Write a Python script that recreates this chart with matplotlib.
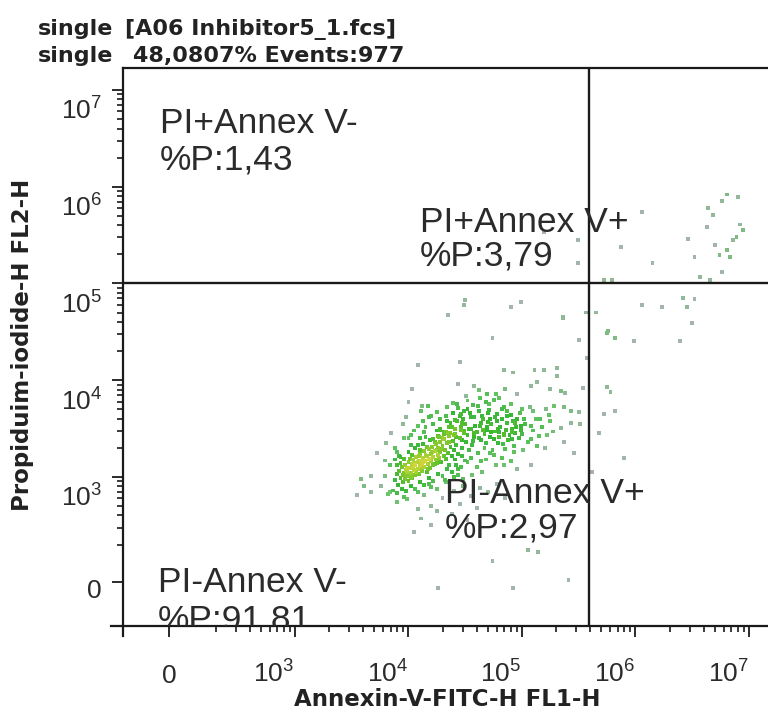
# Import libraries
import numpy as np
import matplotlib
matplotlib.use("Agg")
import matplotlib.pyplot as plt
from matplotlib.colors import LinearSegmentedColormap
from matplotlib.transforms import Affine2D, ScaledTranslation, blended_transform_factory

# Header and axis titles
header_line1 = ["single", "[A06 Inhibitor5_1.fcs]"]
header_line2 = ["single", "48,0807% Events:977"]
x_title = "Annexin-V-FITC-H FL1-H"
y_title = "Propiduim-iodide-H FL2-H"

# Tick values and labels
x_major = [0, 1e3, 1e4, 1e5, 1e6, 1e7]
x_labels = ["0", "$10^3$", "$10^4$", "$10^5$", "$10^6$", "$10^7$"]
y_major = [0, 1e3, 1e4, 1e5, 1e6, 1e7]
y_labels = ["0", "$10^3$", "$10^4$", "$10^5$", "$10^6$", "$10^7$"]
minor_steps = [2, 3, 4, 5, 6, 7, 8, 9]
minor_decades = [100, 1e3, 1e4, 1e5, 1e6]

# Quadrant gate and statistics
gate_x = 3.9e5
gate_y = 1.02e5
quad_names = ["PI+Annex V-", "PI+Annex V+", "PI-Annex V+", "PI-Annex V-"]
quad_pcts = ["%P:1,43", "%P:3,79", "%P:2,97", "%P:91,81"]

# Events as (log10 FL1, log10 FL2)
core_events = [
    (3.88, 2.97), (3.90, 3.03), (3.91, 2.92), (3.92, 3.06), (3.93, 2.99), (3.94, 3.10), (3.95, 2.95), (3.96, 3.04),
    (3.97, 3.12), (3.97, 2.98), (3.98, 3.07), (3.99, 3.01), (4.00, 3.15), (4.00, 2.96), (4.01, 3.09), (4.02, 3.04),
    (4.03, 3.13), (4.03, 2.99), (4.04, 3.18), (4.05, 3.07), (4.06, 3.02), (4.06, 3.12), (4.07, 3.21), (4.08, 3.08),
    (4.08, 3.15), (4.09, 3.03), (4.10, 3.11), (4.10, 3.24), (4.11, 3.17), (4.12, 3.06), (4.12, 3.13), (4.13, 3.20),
    (4.14, 3.10), (4.14, 3.27), (4.15, 3.16), (4.16, 3.05), (4.16, 3.22), (4.17, 3.13), (4.18, 3.19), (4.18, 3.29),
    (4.19, 3.09), (4.20, 3.24), (4.20, 3.16), (4.21, 3.31), (4.22, 3.12), (4.22, 3.21), (4.23, 3.27), (4.24, 3.18),
    (4.24, 3.34), (4.25, 3.14), (4.26, 3.23), (4.26, 3.30), (4.27, 3.20), (4.28, 3.36), (4.28, 3.26), (4.29, 3.15),
    (4.30, 3.32), (4.31, 3.22), (4.31, 3.39), (4.32, 3.28), (4.33, 3.19), (4.34, 3.35), (4.35, 3.25), (4.36, 3.42),
    (4.37, 3.31), (4.38, 3.22), (4.39, 3.37), (4.40, 3.28), (4.41, 3.44), (4.42, 3.33), (4.44, 3.24), (4.45, 3.40),
    (4.47, 3.30), (4.49, 3.45), (4.51, 3.36), (3.95, 3.02), (3.99, 3.09), (4.02, 3.00), (4.04, 3.11), (4.07, 3.05),
    (4.09, 3.17), (4.11, 3.09), (4.13, 3.15), (4.15, 3.23), (4.17, 3.08), (4.19, 3.18), (4.21, 3.26), (4.23, 3.13),
    (4.25, 3.28), (4.27, 3.17), (4.29, 3.29), (4.05, 3.14), (4.09, 3.22), (4.01, 3.19), (3.93, 3.14),
]
core_edge_events = [
    (3.84, 3.12), (3.88, 3.18), (3.92, 3.22), (3.96, 3.19), (4.00, 3.26), (4.03, 3.23), (4.06, 3.30), (4.10, 3.28),
    (4.13, 3.34), (4.16, 3.31), (4.19, 3.38), (4.23, 3.36), (4.26, 3.42), (4.30, 3.40), (4.33, 3.47), (4.37, 3.45),
    (4.41, 3.50), (4.46, 3.52), (3.90, 3.26), (4.02, 3.33), (4.15, 3.41), (4.28, 3.48), (3.82, 2.82), (3.86, 2.86),
    (3.90, 2.83), (3.94, 2.88), (3.98, 2.85), (4.02, 2.91), (4.06, 2.88), (4.10, 2.95), (4.14, 2.92), (4.18, 2.99),
    (4.22, 2.96), (4.26, 3.03), (4.30, 3.01), (4.34, 3.08), (4.38, 3.05), (4.42, 3.12), (4.46, 3.10), (4.50, 3.17),
    (3.96, 2.79), (4.08, 2.84), (4.20, 2.90), (4.32, 2.97), (4.44, 3.02),
]
mid_events = [
    (4.08, 4.16), (4.45, 4.19), (4.84, 4.11), (4.92, 4.08), (5.11, 4.11), (5.19, 4.11), (5.31, 4.13), (5.31, 4.04),
    (4.03, 3.91), (4.44, 3.96), (4.58, 3.94), (4.85, 3.91), (5.08, 3.94), (5.13, 3.98), (5.25, 3.91), (5.34, 3.89),
    (5.38, 3.87), (5.54, 3.92), (4.96, 3.86), (4.69, 3.86), (4.80, 3.82), (4.17, 3.73), (4.34, 3.72), (4.43, 3.75),
    (4.52, 3.79), (4.61, 3.73), (4.68, 3.77), (4.75, 3.80), (4.84, 3.72), (4.90, 3.75), (5.00, 3.70), (5.10, 3.68),
    (5.21, 3.70), (5.28, 3.73), (5.37, 3.72), (5.43, 3.68), (5.50, 3.67), (4.49, 3.68), (4.11, 3.68), (4.08, 3.53),
    (4.20, 3.63), (4.28, 3.60), (4.37, 3.56), (4.46, 3.65), (4.55, 3.62), (4.64, 3.56), (4.72, 3.60), (4.78, 3.65),
    (4.87, 3.63), (4.94, 3.56), (5.02, 3.60), (5.08, 3.53), (5.16, 3.60), (5.25, 3.58), (5.34, 3.51), (5.43, 3.56),
    (5.51, 3.55), (4.02, 3.43), (4.14, 3.46), (4.22, 3.39), (4.31, 3.46), (4.40, 3.43), (4.49, 3.48), (4.58, 3.41),
    (4.67, 3.44), (4.75, 3.39), (4.84, 3.43), (4.91, 3.46), (4.99, 3.49), (5.08, 3.39), (5.13, 3.32), (5.22, 3.43),
    (5.37, 3.36), (5.46, 3.25), (4.35, 3.45), (4.38, 3.52), (4.41, 3.18), (4.43, 3.58), (4.46, 3.49), (4.47, 3.22),
    (4.50, 3.55), (4.52, 3.43), (4.53, 3.28), (4.55, 3.50), (4.57, 3.37), (4.58, 3.62), (4.60, 3.46), (4.61, 3.25),
    (4.63, 3.53), (4.64, 3.38), (4.66, 3.60), (4.67, 3.30), (4.69, 3.48), (4.70, 3.66), (4.72, 3.41), (4.73, 3.55),
    (4.75, 3.23), (4.76, 3.47), (4.78, 3.58), (4.79, 3.35), (4.81, 3.52), (4.82, 3.70), (4.84, 3.44), (4.85, 3.29),
    (4.87, 3.56), (4.88, 3.38), (4.90, 3.64), (4.91, 3.50), (4.93, 3.32), (4.94, 3.45), (4.96, 3.60), (4.97, 3.40),
    (4.99, 3.53), (5.01, 3.28), (4.45, 3.63), (4.52, 3.70), (4.62, 3.68), (4.71, 3.75), (4.34, 3.58), (4.39, 3.66),
    (4.28, 3.50), (4.31, 3.44), (4.36, 3.12), (4.44, 3.08), (4.52, 3.15), (4.60, 3.10), (4.68, 3.18), (4.77, 3.12),
    (4.56, 3.02), (4.48, 2.98), (4.40, 3.00), (4.65, 3.05), (3.80, 3.35), (3.85, 3.45), (3.72, 3.25), (3.95, 3.55),
    (3.88, 3.30), (4.00, 3.40), (3.98, 3.62), (4.00, 3.77), (4.12, 3.73),
]
mid_extra_events = [
    (4.22, 3.55), (4.25, 3.67), (4.27, 3.41), (4.33, 3.63), (4.36, 3.36), (4.39, 3.76), (4.41, 3.59), (4.42, 3.41),
    (4.44, 3.71), (4.47, 3.38), (4.48, 3.60), (4.51, 3.84), (4.53, 3.50), (4.54, 3.66), (4.56, 3.33), (4.57, 3.74),
    (4.59, 3.53), (4.62, 3.40), (4.63, 3.82), (4.65, 3.63), (4.66, 3.49), (4.68, 3.35), (4.70, 3.57), (4.71, 3.69),
    (4.73, 3.46), (4.74, 3.28), (4.76, 3.62), (4.77, 3.86), (4.79, 3.50), (4.80, 3.41), (4.82, 3.60), (4.83, 3.34),
    (4.86, 3.49), (4.87, 3.68), (4.89, 3.43), (4.92, 3.58), (4.93, 3.26), (4.95, 3.52), (4.98, 3.66), (5.00, 3.44),
    (5.03, 3.55), (5.05, 3.36), (5.07, 3.72), (5.10, 3.48), (5.12, 3.60), (5.15, 3.42), (5.18, 3.52), (5.20, 3.30),
    (5.24, 3.64), (5.27, 3.47), (4.15, 3.52), (4.18, 3.62), (4.05, 3.48), (4.10, 3.40), (4.13, 3.58), (3.96, 3.40),
    (4.08, 3.33), (4.25, 3.48), (4.36, 3.52), (4.47, 3.56), (4.58, 3.45), (4.69, 3.52), (4.80, 3.46), (4.91, 3.39),
    (4.55, 3.20), (4.64, 3.16), (4.72, 3.25), (4.82, 3.20), (4.90, 3.16), (4.62, 3.90),
]
tail_events = [
    (3.90, 3.12), (3.99, 3.05), (4.84, 3.12), (4.96, 3.08), (5.08, 3.12), (3.55, 2.81), (3.67, 2.84), (3.58, 2.98),
    (3.76, 2.91), (3.84, 2.84), (3.90, 2.74), (3.99, 2.77), (4.08, 2.67), (4.14, 2.81), (4.20, 2.70), (4.25, 2.65),
    (3.79, 3.01), (4.11, 2.57), (4.20, 2.50), (4.05, 2.43), (3.93, 3.21), (3.79, 3.17), (3.67, 3.01), (3.61, 2.91),
    (4.18, 2.93), (4.25, 2.88), (4.33, 2.95), (4.40, 2.86), (4.48, 2.91), (4.55, 2.80), (4.63, 2.89), (4.70, 2.84),
    (4.78, 2.93), (4.30, 2.78), (4.45, 2.72), (4.60, 2.68), (4.85, 2.78), (4.38, 2.62), (4.52, 2.55),
]
upper_events = [
    (4.50, 4.83), (4.49, 4.78), (4.35, 4.67), (4.90, 4.76), (4.99, 4.81), (5.36, 4.65), (5.56, 4.70),
    (4.74, 4.44), (5.50, 4.42), (5.57, 4.23), (5.36, 4.64),
]
ul_events = [(5.49, 5.45), (5.49, 5.21), (5.19, 5.53)]
ur_events = [
    (6.81, 5.92), (6.90, 5.89), (6.76, 5.85), (6.64, 5.78), (6.68, 5.71), (6.63, 5.58), (6.92, 5.61), (6.89, 5.48),
    (6.86, 5.45), (6.81, 5.35), (6.74, 5.29), (6.83, 5.27), (6.46, 5.46), (6.52, 5.27), (6.76, 5.12), (6.57, 5.07),
    (6.66, 5.04), (6.15, 5.21), (5.87, 5.38), (6.06, 5.74), (5.72, 5.04), (5.79, 5.04), (6.95, 5.55), (6.70, 5.40),
]
lr_events = [
    (5.65, 4.70), (6.42, 4.85), (6.52, 4.84), (6.45, 4.76), (6.06, 4.78), (6.23, 4.76), (6.50, 4.59), (6.39, 4.41),
    (5.99, 4.41), (5.76, 4.51), (5.82, 4.44), (5.75, 4.49), (5.75, 3.93), (5.78, 3.88), (5.72, 3.65), (5.82, 3.68),
    (5.68, 3.45), (5.90, 3.20), (5.62, 3.05),
]
# Events near zero on FL2 as (log10 FL1, linear FL2)
low_events = [(4.74, 110), (4.26, -30), (4.92, -30), (5.41, 10), (5.05, 170), (5.14, 160)]

# Combine the events into linear values
log_events = (core_events + core_edge_events + mid_events + mid_extra_events + tail_events
              + upper_events + ul_events + ur_events + lr_events)
x_vals = np.array([10 ** e[0] for e in log_events] + [10 ** e[0] for e in low_events])
y_vals = np.array([10 ** e[1] for e in log_events] + [e[1] for e in low_events])

# Fonts
plt.rcParams["mathtext.fontset"] = "custom"
plt.rcParams["mathtext.rm"] = "Liberation Sans"
plt.rcParams["mathtext.it"] = "Liberation Sans:italic"
text_color = "#2b2b2b"

# Create the figure with the plot box in pixel position
fig = plt.figure(figsize=(7.68, 7.13), dpi=100)
ax = fig.add_axes([123 / 768, 1 - 626 / 713, 645 / 768, 558 / 713])
ax.set_xscale("symlog", linthresh=200, linscale=0.37)
ax.set_yscale("symlog", linthresh=200, linscale=0.35)
ax.set_xlim(-197, 1.47e7)
ax.set_ylim(-232, 1.69e7)

# Pixel transform (origin top-left)
px = Affine2D().scale(1 / 100, -1 / 100).translate(0, 7.13) + fig.dpi_scale_trans

# Colour each event by local density
dot_cmap = LinearSegmentedColormap.from_list(
    "flow", [(0, "#a3b3ad"), (0.1, "#62c462"), (0.3, "#34b634"), (0.55, "#7cc82c"),
             (0.8, "#cfd83a"), (1.0, "#e8b834")])
disp = ax.transData.transform(np.column_stack([x_vals, y_vals]))
dist = np.sqrt(((disp[:, None, :] - disp[None, :, :]) ** 2).sum(-1))
counts = (dist < 11).sum(1) - 1
order = np.argsort(counts)
ax.scatter(x_vals[order], y_vals[order], c=counts[order], cmap=dot_cmap, vmin=0, vmax=36,
           s=8, marker="s", linewidths=0, zorder=2)

# Quadrant gate
ax.axvline(gate_x, color="#1a1a1a", lw=1.7, zorder=3)
ax.axhline(gate_y, color="#1a1a1a", lw=1.7, zorder=3)

# Spines
for side in ["left", "bottom", "top"]:
    ax.spines[side].set_linewidth(1.6)
    ax.spines[side].set_color("#1a1a1a")
ax.spines["right"].set_visible(False)
ax.plot([-12 / 645, 0], [0, 0], transform=ax.transAxes, color="#1a1a1a", lw=1.6, clip_on=False)
ax.plot([0, 0], [-10 / 558, 0], transform=ax.transAxes, color="#1a1a1a", lw=1.6, clip_on=False)

# Ticks
minor_ticks = [s * d for d in minor_decades for s in minor_steps]
ax.set_xticks(x_major)
ax.set_yticks(y_major)
ax.set_xticks(minor_ticks, minor=True)
ax.set_yticks(minor_ticks, minor=True)
ax.tick_params(which="major", direction="out", length=8, width=1.3, color="#1a1a1a",
               labelbottom=False, labelleft=False)
ax.tick_params(which="minor", direction="out", length=4, width=1.2, color="#1a1a1a")

# Tick labels placed below / left of each tick
xtr = blended_transform_factory(ax.transData, ax.transAxes)
for val, lab in zip(x_major, x_labels):
    shift = 0 if val == 0 else -21
    ax.text(val, 0, lab, transform=xtr + ScaledTranslation(shift / 100, -57 / 100, fig.dpi_scale_trans),
            ha="center", va="baseline", fontsize=19, family="Liberation Sans", color=text_color)
ytr = blended_transform_factory(ax.transAxes, ax.transData)
for val, lab in zip(y_major, y_labels):
    drop = 16 if val == 0 else 30
    ax.text(0, val, lab, transform=ytr + ScaledTranslation(-21 / 100, -drop / 100, fig.dpi_scale_trans),
            ha="right", va="baseline", fontsize=19, family="Liberation Sans", color=text_color)

# Quadrant labels (clipped to the plot box)
quad_pos = [(160, 133, 170), (420, 232, 265), (445, 503, 538), (158, 592, 629)]
for name, pct, (lx, b1, b2) in zip(quad_names, quad_pcts, quad_pos):
    ax.text(lx, b1, name, transform=px, fontsize=25.5, family="Liberation Sans", color=text_color,
            va="baseline", clip_on=True, zorder=4)
    ax.text(lx, b2, pct, transform=px, fontsize=25.5, family="Liberation Sans", color=text_color,
            va="baseline", clip_on=True, zorder=4)

# Header lines
head_kw = dict(transform=px, fontsize=16, family="DejaVu Sans", fontweight="bold", color="#222222",
               va="baseline")
fig.text(38, 35, header_line1[0], **head_kw)
fig.text(125, 35, header_line1[1], **head_kw)
fig.text(38, 62, header_line2[0], **head_kw)
fig.text(133, 62, header_line2[1], **head_kw)

# Axis titles
fig.text(447, 706, x_title, transform=px, fontsize=16.5, family="DejaVu Sans", fontweight="bold",
         color="#222222", ha="center", va="baseline")
fig.text(23, 345, y_title, transform=px, fontsize=16.5, family="DejaVu Sans", fontweight="bold",
         color="#222222", ha="center", va="center", rotation=90)

# Save the plot as a PNG file
fig.savefig("out.png", dpi=100)
